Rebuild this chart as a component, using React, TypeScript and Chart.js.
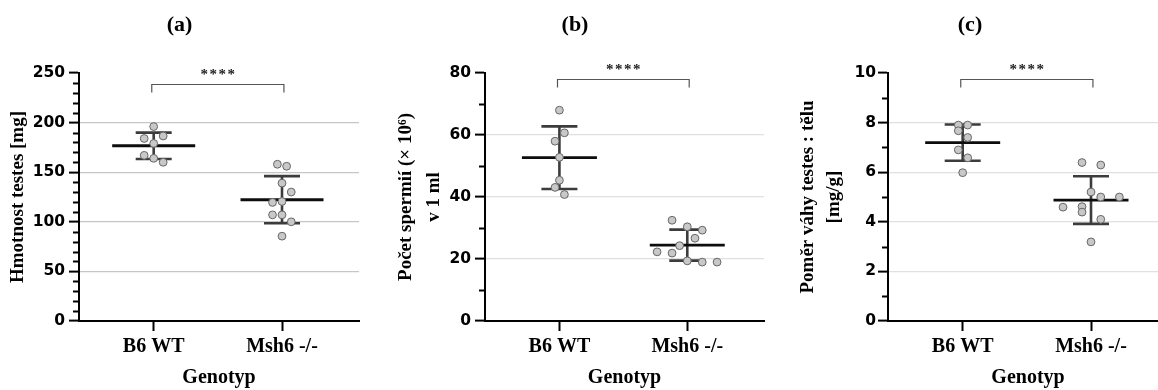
import React, { useEffect, useRef } from 'react';
import { Chart, registerables } from 'chart.js';

Chart.register(...registerables);

// ---------- shared labels ----------
const GROUPS = ['B6 WT', 'Msh6 -/-'];
const X_TITLE = 'Genotyp';
const SIGNIF = '****';

// ---------- panel (a): testis weight [mg] ----------
const weightWT = [196, 184, 186.5, 179, 167, 164, 160];
const weightWTJitter = [0, -0.074, 0.074, 0, -0.074, 0, 0.074];
const weightKO = [158, 156, 139, 130, 119.5, 120.5, 107, 107, 100, 85.5];
const weightKOJitter = [-0.036, 0.036, 0, 0.072, -0.074, 0, -0.074, 0, 0.072, 0];
const weightTicks = { max: 250, step: 50, minor: 10 };
const weightBracket = 238.5;

// ---------- panel (b): sperm count (x10^6 per ml) ----------
const spermWT = [68, 60.7, 58, 52.8, 45.4, 43.1, 40.8];
const spermWTJitter = [0, 0.039, -0.034, 0, 0, -0.034, 0.039];
const spermKO = [32.5, 30.4, 29.3, 26.7, 24.3, 22.3, 21.9, 19.4, 19.0, 19.0];
const spermKOJitter = [-0.119, 0, 0.117, 0.06, -0.06, -0.236, -0.119, 0, 0.117, 0.233];
const spermTicks = { max: 80, step: 20, minor: 10 };
const spermBracket = 78;

// ---------- panel (c): testis : body weight ratio [mg/g] ----------
const ratioWT = [7.9, 7.9, 7.67, 7.4, 6.9, 6.58, 5.98];
const ratioWTJitter = [-0.034, 0.039, -0.034, 0.039, -0.034, 0.039, 0];
const ratioKO = [6.39, 6.29, 5.2, 5.0, 5.0, 4.59, 4.61, 4.39, 4.1, 3.19];
const ratioKOJitter = [-0.07, 0.076, 0, 0.076, 0.221, -0.218, -0.07, -0.07, 0.076, 0];
const ratioTicks = { max: 10, step: 2, minor: 1 };
const ratioBracket = 9.77;

const SERIF = '"Liberation Serif", "Times New Roman", serif';
const SANS = '"DejaVu Sans", Verdana, sans-serif';

const mean = (a: number[]) => a.reduce((s, v) => s + v, 0) / a.length;
const sd = (a: number[]) => {
  const m = mean(a);
  return Math.sqrt(a.reduce((s, v) => s + (v - m) * (v - m), 0) / (a.length - 1));
};

type PanelProps = {
  left: number;
  width: number;
  axisWidth: number;
  padRight: number;
  title: string;
  yTitle: string | string[];
  yTitleLH: number;
  yTitlePad: number;
  yTickPad: number;
  ticks: { max: number; step: number; minor: number };
  wt: number[];
  wtJit: number[];
  ko: number[];
  koJit: number[];
  bracket: number;
  gridColor: string;
  meanHalf: number;
};

function Panel(p: PanelProps) {
  const ref = useRef<HTMLCanvasElement>(null);
  useEffect(() => {
    if (!ref.current) return;
    const groups = [p.wt, p.ko];
    const capHalf = 18;
    const summaryPlugin = {
      id: 'summary',
      beforeDatasetsDraw(chart: any) {
        const { ctx, scales } = chart;
        const x = scales.x, y = scales.y;
        groups.forEach((vals, gi) => {
          const m = mean(vals);
          const s = sd(vals);
          const px = x.getPixelForValue(gi);
          const yT = y.getPixelForValue(m + s);
          const yB = y.getPixelForValue(m - s);
          const yM = y.getPixelForValue(m);
          ctx.save();
          ctx.strokeStyle = '#3c3c3c';
          ctx.lineWidth = 2.6;
          ctx.beginPath();
          ctx.moveTo(px, yT);
          ctx.lineTo(px, yB);
          ctx.moveTo(px - capHalf, yT);
          ctx.lineTo(px + capHalf, yT);
          ctx.moveTo(px - capHalf, yB);
          ctx.lineTo(px + capHalf, yB);
          ctx.stroke();
          ctx.strokeStyle = '#0d0d0d';
          ctx.lineWidth = 2.8;
          ctx.beginPath();
          ctx.moveTo(px - p.meanHalf, yM);
          ctx.lineTo(px + p.meanHalf, yM);
          ctx.stroke();
          ctx.restore();
        });
      },
      afterDraw(chart: any) {
        const { ctx, chartArea, scales } = chart;
        const x = scales.x, y = scales.y;
        ctx.save();
        // minor ticks on the y axis
        ctx.strokeStyle = '#000';
        ctx.lineWidth = 2;
        const n = Math.round(p.ticks.max / p.ticks.minor);
        for (let i = 1; i < n; i++) {
          const v = i * p.ticks.minor;
          const r = v / p.ticks.step;
          if (Math.abs(r - Math.round(r)) < 1e-6) continue;
          const py = Math.round(y.getPixelForValue(v)) + 0.5;
          ctx.beginPath();
          ctx.moveTo(chartArea.left - 6, py);
          ctx.lineTo(chartArea.left, py);
          ctx.stroke();
        }
        // significance bracket
        const by = Math.round(y.getPixelForValue(p.bracket)) + 0.5;
        const x0 = x.getPixelForValue(-0.015);
        const x1 = x.getPixelForValue(1.015);
        ctx.strokeStyle = '#555';
        ctx.lineWidth = 1.2;
        ctx.beginPath();
        ctx.moveTo(x0, by + 8);
        ctx.lineTo(x0, by);
        ctx.lineTo(x1, by);
        ctx.lineTo(x1, by + 8);
        ctx.stroke();
        ctx.fillStyle = '#222';
        ctx.font = 'bold 15px ' + SERIF;
        ctx.textAlign = 'center';
        ctx.textBaseline = 'alphabetic';
        (ctx as any).letterSpacing = '1.5px';
        ctx.fillText(SIGNIF, (x0 + x1) / 2 + 0.75, by - 6);
        ctx.restore();
      },
    };

    const pointStyle = {
      pointRadius: 3.9,
      pointBackgroundColor: '#c8c8c8',
      pointBorderColor: '#666',
      pointBorderWidth: 1,
      showLine: false,
    };

    const chart = new Chart(ref.current, {
      type: 'scatter',
      data: {
        datasets: [
          { data: p.wt.map((v, i) => ({ x: 0 + p.wtJit[i], y: v })), ...pointStyle },
          { data: p.ko.map((v, i) => ({ x: 1 + p.koJit[i], y: v })), ...pointStyle },
        ],
      },
      options: {
        animation: false,
        responsive: false,
        maintainAspectRatio: false,
        layout: { padding: { left: 0, right: p.padRight, top: 0, bottom: 0 } },
        plugins: {
          legend: { display: false },
          tooltip: { enabled: false },
          title: {
            display: true,
            text: p.title,
            color: '#000',
            font: { family: SERIF, size: 22, weight: 'bold', lineHeight: 1.2 },
            padding: { top: 12, bottom: 34.6 },
          },
        },
        scales: {
          x: {
            type: 'linear',
            min: -0.582,
            max: 1.6,
            afterBuildTicks: (s: any) => {
              s.ticks = GROUPS.map((_, i) => ({ value: i }));
            },
            afterFit: (s: any) => {
              s.height = 69;
            },
            ticks: {
              autoSkip: false,
              maxRotation: 0,
              padding: 4,
              color: '#000',
              font: { family: SERIF, size: 20, weight: 'bold' },
              callback: (v: any) => GROUPS[Math.round(Number(v))] ?? '',
            },
            grid: {
              display: true,
              drawOnChartArea: false,
              drawTicks: true,
              tickLength: 10,
              tickWidth: 2,
              tickColor: '#000',
            },
            border: { display: true, color: '#000', width: 2 },
            title: {
              display: true,
              text: X_TITLE,
              color: '#000',
              font: { family: SERIF, size: 20, weight: 'bold', lineHeight: 1.2 },
              padding: { top: 0, bottom: 0 },
            },
          },
          y: {
            min: 0,
            max: p.ticks.max,
            afterFit: (s: any) => {
              s.width = p.axisWidth;
            },
            ticks: {
              stepSize: p.ticks.step,
              padding: p.yTickPad,
              color: '#000',
              font: { family: SANS, size: 15.5, weight: 'bold' },
            },
            grid: {
              color: (c: any) =>
                c.tick && (c.tick.value === 0 || c.tick.value === p.ticks.max)
                  ? 'rgba(0,0,0,0)'
                  : p.gridColor,
              lineWidth: 1.2,
              drawTicks: true,
              tickLength: 10,
              tickWidth: 2,
              tickColor: '#000',
            },
            border: { display: true, color: '#000', width: 2 },
            title: {
              display: true,
              text: p.yTitle,
              color: '#000',
              font: { family: SERIF, size: 19, weight: 'bold', lineHeight: p.yTitleLH },
              padding: { top: p.yTitlePad, bottom: 0 },
            },
          },
        },
      } as any,
      plugins: [summaryPlugin],
    });
    return () => chart.destroy();
  }, []);
  return (
    <canvas
      ref={ref}
      width={p.width}
      height={390}
      style={{ position: 'absolute', left: p.left, top: 0, width: p.width, height: 390 }}
    />
  );
}

export default function App() {
  return (
    <div
      style={{
        position: 'fixed',
        left: 0,
        top: 0,
        width: 1158,
        height: 390,
        overflow: 'hidden',
        background: '#fff',
      }}
    >
      <Panel
        left={0}
        width={449}
        axisWidth={79}
        padRight={90}
        title="(a)"
        yTitle="Hmotnost testes [mg]"
        yTitleLH={1.2}
        yTitlePad={7}
        yTickPad={4}
        ticks={weightTicks}
        wt={weightWT}
        wtJit={weightWTJitter}
        ko={weightKO}
        koJit={weightKOJitter}
        bracket={weightBracket}
        gridColor="#c6c6c6"
        meanHalf={41.5}
      />
      <Panel
        left={386}
        width={479}
        axisWidth={99}
        padRight={101}
        title="(b)"
        yTitle={['Počet spermií (× 10⁶)', 'v 1 ml']}
        yTitleLH={1.47}
        yTitlePad={6}
        yTickPad={4}
        ticks={spermTicks}
        wt={spermWT}
        wtJit={spermWTJitter}
        ko={spermKO}
        koJit={spermKOJitter}
        bracket={spermBracket}
        gridColor="#e0e0e0"
        meanHalf={37.5}
      />
      <Panel
        left={772}
        width={520}
        axisWidth={116}
        padRight={124}
        title="(c)"
        yTitle={['Poměr váhy testes : tělu', '[mg/g]']}
        yTitleLH={1.32}
        yTitlePad={24}
        yTickPad={2}
        ticks={ratioTicks}
        wt={ratioWT}
        wtJit={ratioWTJitter}
        ko={ratioKO}
        koJit={ratioKOJitter}
        bracket={ratioBracket}
        gridColor="#e0e0e0"
        meanHalf={37.5}
      />
    </div>
  );
}
